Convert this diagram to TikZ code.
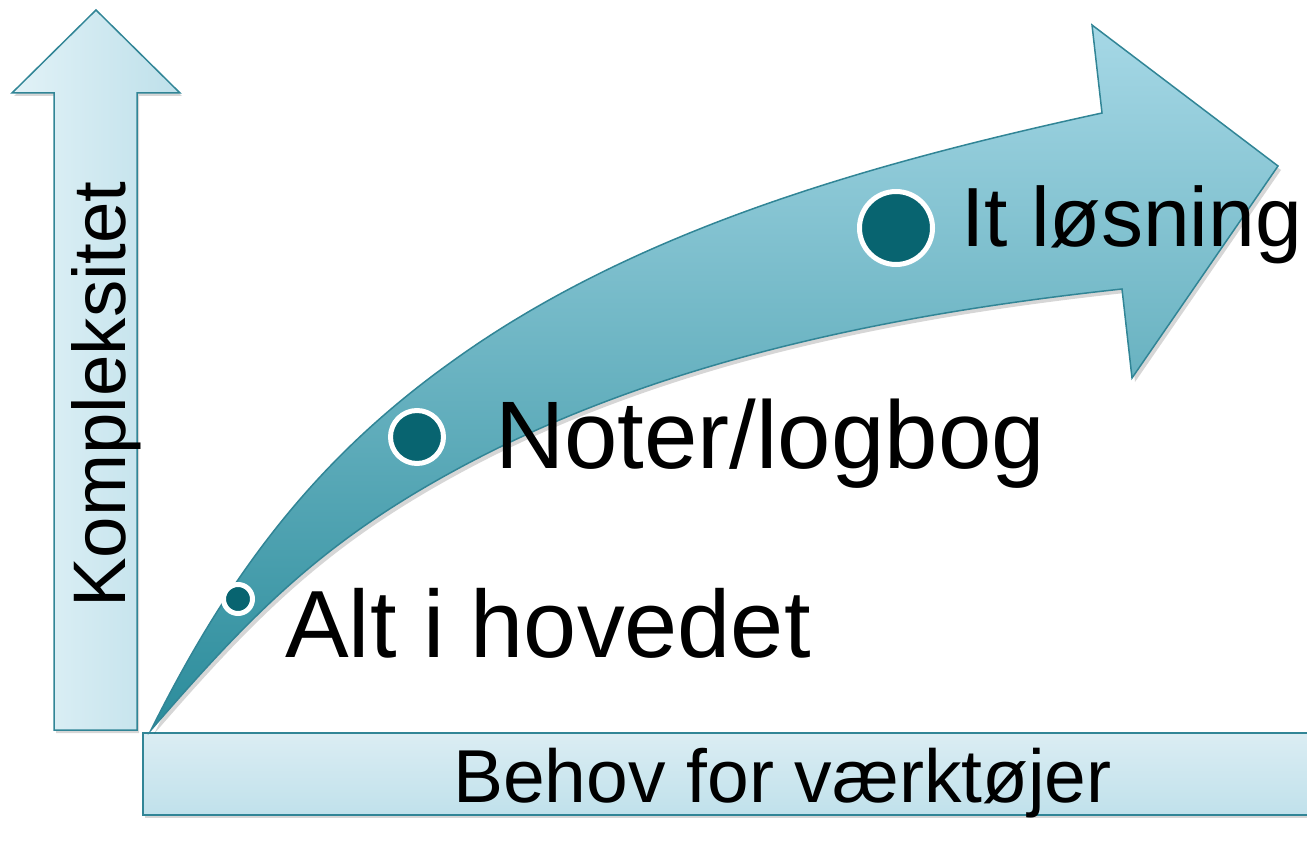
\documentclass[tikz,border=0pt]{standalone}
\usepackage{fontspec}
\setmainfont{Liberation Sans}
\definecolor{edgecol}{RGB}{49,133,150}
\definecolor{dotcol}{RGB}{8,100,112}
\definecolor{arrtop}{RGB}{166,216,230}
\definecolor{arrbot}{RGB}{43,140,155}
\definecolor{upleft}{RGB}{226,242,247}
\definecolor{upright}{RGB}{190,224,234}
\definecolor{bartop}{RGB}{219,237,243}
\definecolor{barbot}{RGB}{192,225,235}
\tikzset{
  shapeedge/.style={draw=edgecol, line width=1.5pt},
  softshadow/.style={fill=black, opacity=0.16},
  dotnode/.style={circle, fill=dotcol, draw=white, line width=5pt, inner sep=0pt},
  lbl/.style={inner sep=0pt, text=black},
}
\newcommand{\uparrowpath}{(96,10) -- (180,93) -- (137,93) -- (137,730) -- (54,730) -- (54,93) -- (12,93) -- cycle}
\newcommand{\curvepath}{(151,730) .. controls (227,578) and (312,462) .. (450,363) .. controls (636,228) and (877,162) .. (1102,113) -- (1092,25) -- (1278,166) -- (1132,378) -- (1122,289) .. controls (890,314) and (651,362) .. (450,473) .. controls (319,545) and (249,617) .. (151,730) -- cycle}
\begin{document}
\begin{tikzpicture}[x=1pt,y=-1pt]
\useasboundingbox (0,0) rectangle (1307,853);
% vertical arrow
\begin{scope}[shift={(2,3)}]
\fill[softshadow] \uparrowpath;
\end{scope}
\shade[left color=upleft, right color=upright] \uparrowpath;
\draw[shapeedge] \uparrowpath;
% bottom bar
\fill[softshadow] (145,736) rectangle (1312,818);
\shade[top color=bartop, bottom color=barbot] (143,733) rectangle (1312,815);
\draw[shapeedge] (1312,733) -- (143,733) -- (143,815) -- (1312,815);
% curved arrow
\begin{scope}[shift={(3,4)}]
\fill[softshadow] \curvepath;
\end{scope}
\shade[top color=arrtop, bottom color=arrbot] \curvepath;
\draw[shapeedge, line join=miter] \curvepath;
% dots
\node[dotnode, minimum size=29pt] (d1) at (238,599) {};
\node[dotnode, minimum size=53pt] (d2) at (417,437) {};
\node[dotnode, minimum size=73pt] (d3) at (896,228) {};
% labels
\node[lbl, anchor=base west, font=\fontsize{95.5}{100}\selectfont] (t1) at (285,657) {Alt i hovedet};
\node[lbl, anchor=base west, font=\fontsize{96}{100}\selectfont] (t2) at (495,468) {Noter/logbog};
\node[lbl, anchor=base west, font=\fontsize{84}{90}\selectfont] (t3) at (961,247) {It løsning};
\node[lbl, anchor=base west, font=\fontsize{75}{80}\selectfont] (bx) at (453,802) {Behov for værktøjer};
\node[lbl, anchor=base west, rotate=90, font=\fontsize{74.5}{80}\selectfont] (by) at (125,608) {Kompleksitet};
\end{tikzpicture}
\end{document}
